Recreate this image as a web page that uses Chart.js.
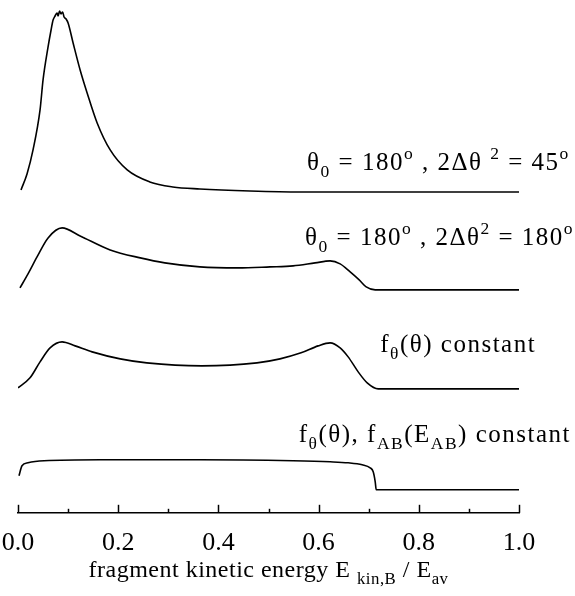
<!doctype html>
<head>
<style>
* {
    box-sizing: border-box;
    margin: 0;
    padding: 0;
}
body {
    background: #fff;
}
div {
    position: relative;
    width: 575px;
    height: 596px;
}
</style>
</head>
<div><canvas></canvas></div>
<script src="https://cdn.jsdelivr.net/npm/chart.js"></script>
<script>

// x = E_kin,B / E_av, y = intensity above each curve's own baseline
let energy1 = [0.006, 0.018, 0.030, 0.044, 0.050, 0.060, 0.066, 0.070, 0.074, 0.078, 0.080, 0.083, 0.086, 0.089, 0.092, 0.096, 0.100, 0.110, 0.124, 0.138, 0.158, 0.184, 0.218, 0.263, 0.309, 0.363, 0.463, 0.563, 1.0]
let intensity1 = [0.02, 0.18, 0.42, 0.82, 1.12, 1.45, 1.62, 1.72, 1.76, 1.79, 1.76, 1.81, 1.78, 1.80, 1.75, 1.73, 1.69, 1.49, 1.22, 0.99, 0.69, 0.42, 0.22, 0.10, 0.05, 0.03, 0.01, 0.0, 0.0]

let energy2 = [0.004, 0.020, 0.038, 0.060, 0.088, 0.124, 0.184, 0.244, 0.293, 0.363, 0.439, 0.503, 0.549, 0.593, 0.623, 0.643, 0.663, 0.681, 0.695, 0.713, 1.0]
let intensity2 = [0.02, 0.16, 0.33, 0.52, 0.62, 0.54, 0.40, 0.32, 0.27, 0.23, 0.22, 0.23, 0.24, 0.27, 0.29, 0.26, 0.18, 0.10, 0.03, 0.0, 0.0]

let energy3 = [0.0, 0.024, 0.044, 0.064, 0.088, 0.114, 0.148, 0.204, 0.257, 0.367, 0.477, 0.523, 0.565, 0.599, 0.623, 0.643, 0.659, 0.679, 0.697, 0.719, 1.0]
let intensity3 = [0.01, 0.11, 0.27, 0.41, 0.47, 0.43, 0.37, 0.30, 0.26, 0.23, 0.26, 0.30, 0.36, 0.43, 0.46, 0.41, 0.32, 0.17, 0.06, 0.0, 0.0]

let energy4 = [0.002, 0.008, 0.020, 0.052, 0.164, 0.363, 0.549, 0.623, 0.659, 0.687, 0.703, 0.709, 0.713, 0.715, 1.0]
let intensity4 = [0.14, 0.24, 0.27, 0.29, 0.30, 0.30, 0.29, 0.28, 0.27, 0.25, 0.22, 0.18, 0.08, 0.0, 0.0]

// vertical offset of each curve
let offsets = [3.21, 2.23, 1.24, 0.23]

let tickValues = [0, 0.1, 0.2, 0.3, 0.4, 0.5, 0.6, 0.7, 0.8, 0.9, 1.0]
let tickLabels = ['0.0', '0.2', '0.4', '0.6', '0.8', '1.0']

// rich text: [text, 'n' | 'sub' | 'sup']
let curveLabels = [
    [['θ', 'n'], ['0', 'sub'], [' = 180', 'n'], ['o', 'sup'], [' , 2Δθ ', 'n'], ['2', 'sup'], [' = 45', 'n'], ['o', 'sup']],
    [['θ', 'n'], ['0', 'sub'], [' = 180', 'n'], ['o', 'sup'], [' , 2Δθ', 'n'], ['2', 'sup'], [' = 180', 'n'], ['o', 'sup']],
    [['f', 'n'], ['θ', 'sub'], ['(θ) constant', 'n']],
    [['f', 'n'], ['θ', 'sub'], ['(θ), f', 'n'], ['AB', 'sub'], ['(E', 'n'], ['AB', 'sub'], [') constant', 'n']],
]
let axisTitle = [['fragment kinetic energy E ', 'n'], ['kin,B', 'sub'], [' / E', 'n'], ['av', 'sub']]

let serif = '"Liberation Serif", "Times New Roman", serif'

function series(xs, ys, off) {
    return xs.map((x, i) => ({ x: x, y: ys[i] + off }))
}

function richWidth(ctx, parts, size) {
    let w = 0
    for (let [t, m] of parts) {
        ctx.font = `${m === 'n' ? size : size * 0.7}px ${serif}`
        w += ctx.measureText(t).width
    }
    return w
}

function drawRich(ctx, parts, x, y, size) {
    for (let [t, m] of parts) {
        let s = m === 'n' ? size : size * 0.7
        let dy = m === 'sub' ? size * 0.3 : m === 'sup' ? -size * 0.42 : 0
        ctx.font = `${s}px ${serif}`
        ctx.fillText(t, x, y + dy)
        x += ctx.measureText(t).width
    }
}

let extras = {
    id: 'extras',
    afterDraw(chart) {
        let ctx = chart.ctx
        let xs = chart.scales.x
        let ys = chart.scales.y
        let bottom = chart.chartArea.bottom
        ctx.save()
        ctx.strokeStyle = '#000'
        ctx.lineWidth = 1.5
        tickValues.forEach((v, i) => {
            let px = Math.round(xs.getPixelForValue(v)) + 0.5
            ctx.beginPath()
            ctx.moveTo(px, bottom)
            ctx.lineTo(px, bottom - (i % 2 === 0 ? 8 : 4))
            ctx.stroke()
        })
        ctx.fillStyle = '#000'
        ctx.textBaseline = 'alphabetic'
        ctx.textAlign = 'left'
        ctx.letterSpacing = '1.5px'
        // label anchors: left edge in data units (last one is right-aligned at the plot edge + 52px)
        let anchors = [[0.577, 3.43], [0.573, 2.68], [0.723, 1.61], [null, 0.71]]
        curveLabels.forEach((parts, i) => {
            let x = anchors[i][0] === null
                ? xs.right + 52 - richWidth(ctx, parts, 25)
                : xs.getPixelForValue(anchors[i][0])
            drawRich(ctx, parts, x, ys.getPixelForValue(anchors[i][1]), 25)
        })
        ctx.letterSpacing = '0.5px'
        let w = richWidth(ctx, axisTitle, 24)
        drawRich(ctx, axisTitle, (xs.left + xs.right) / 2 - w / 2, 577, 24)
        ctx.restore()
    },
}

let line = { borderColor: '#000', borderWidth: 1.6, pointRadius: 0, fill: false, cubicInterpolationMode: 'monotone' }

new Chart(document.querySelector('canvas'), {
    type: 'line',
    data: {
        datasets: [
            { ...line, data: series(energy1, intensity1, offsets[0]) },
            { ...line, data: series(energy2, intensity2, offsets[1]) },
            { ...line, data: series(energy3, intensity3, offsets[2]) },
            { ...line, data: series(energy4, intensity4, offsets[3]) },
        ],
    },
    options: {
        responsive: true,
        maintainAspectRatio: false,
        animation: false,
        devicePixelRatio: 1,
        layout: { padding: { left: 18, right: 56, top: 5, bottom: 22 } },
        scales: {
            x: {
                type: 'linear',
                min: 0,
                max: 1,
                afterBuildTicks: s => { s.ticks = tickValues.map(v => ({ value: v })) },
                afterFit: s => { s.paddingLeft = 0; s.paddingRight = 0 },
                ticks: {
                    autoSkip: false,
                    maxRotation: 0,
                    padding: 15,
                    color: '#000',
                    font: { family: serif, size: 26 },
                    callback: (v, i) => i % 2 === 0 ? tickLabels[i / 2] : '',
                },
                grid: { display: false, drawTicks: false },
                border: { color: '#000', width: 1.5 },
            },
            y: { display: false, min: 0, max: 5.08 },
        },
        plugins: {
            legend: { display: false },
            tooltip: { enabled: false },
        },
    },
    plugins: [extras],
})

</script>
